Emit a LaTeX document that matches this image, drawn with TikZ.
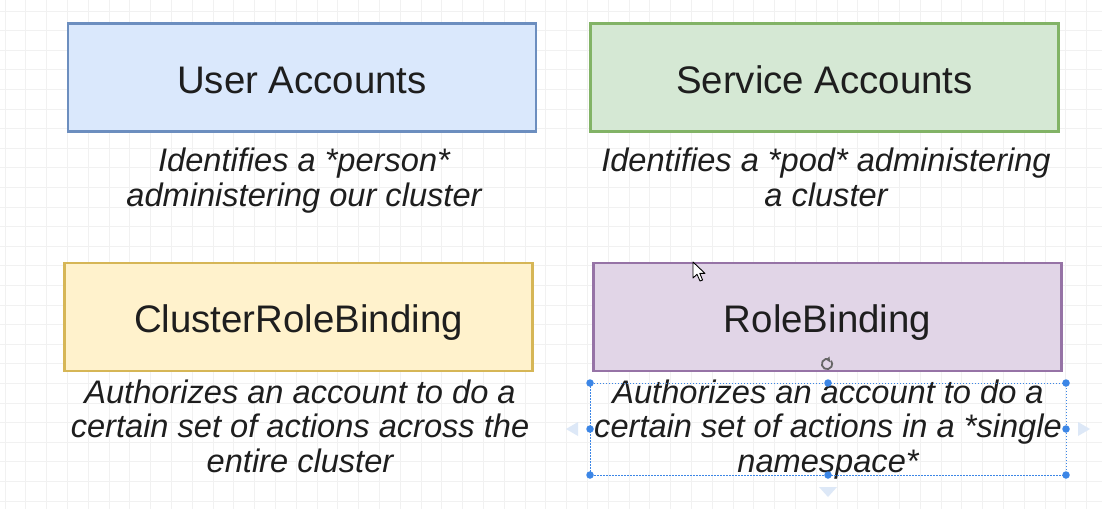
\documentclass[tikz,border=0pt]{standalone}
\usepackage{fontspec}
\setmainfont{Liberation Sans}
\definecolor{gridc}{HTML}{F1F1F1}
\definecolor{inkc}{HTML}{1E1E1E}
\definecolor{blueF}{HTML}{DAE8FC}\definecolor{blueS}{HTML}{6C8EBF}
\definecolor{greenF}{HTML}{D5E8D4}\definecolor{greenS}{HTML}{82B366}
\definecolor{yellowF}{HTML}{FFF2CC}\definecolor{yellowS}{HTML}{D6B656}
\definecolor{purpleF}{HTML}{E1D5E7}\definecolor{purpleS}{HTML}{9673A6}
\definecolor{selc}{HTML}{3C86E6}
\definecolor{hintc}{HTML}{DDE8F7}
\begin{document}
\begin{tikzpicture}[x=1pt,y=-1pt,
  card/.style={draw, line width=2.6pt, rectangle, minimum width=468pt,
    minimum height=108pt, inner sep=0pt, text=inkc,
    font=\fontsize{38.4}{46}\selectfont, text height=31pt, text depth=0pt},
  % the base anchor of a multi-line node sits on its last line
  desc/.style={align=center, inner sep=0pt, text=inkc, anchor=base,
    font=\fontsize{32.6}{34.2}\selectfont\itshape},
  handle/.style={circle, fill=selc, inner sep=0pt, minimum size=7.5pt},
  hint/.style={fill=hintc, draw=none}]
  % canvas and background grid
  \fill[white] (0,0) rectangle (1102,509);
  \useasboundingbox (0,0) rectangle (1102,509);
  \foreach \i in {0,...,53} \draw[gridc, line width=0.7pt] (5+20.8*\i,0) -- (5+20.8*\i,509);
  \foreach \j in {0,...,26} \draw[gridc, line width=0.7pt] (0,11+19.6*\j) -- (1102,11+19.6*\j);

  % the four cards
  \node[card, fill=blueF, draw=blueS]     (user)    at (302,77.5)  {User Accounts};
  \node[card, fill=greenF, draw=greenS]   (service) at (824.5,77.5) {Service Accounts};
  \node[card, fill=yellowF, draw=yellowS] (crb)     at (298.5,317) {ClusterRoleBinding};
  \node[card, fill=purpleF, draw=purpleS] (rb)      at (827.5,317) {RoleBinding};

  % descriptions under each card
  \node[desc] (userd)    at (304,206) {Identifies a *person*\\administering our cluster};
  \node[desc] (serviced) at (826,206) {Identifies a *pod* administering\\a cluster};
  \node[desc] (crbd)     at (300,472) {Authorizes an account to do a\\certain set of actions across the\\entire cluster};
  \node[desc] (rbd)      at (828,472) {Authorizes an account to do a\\certain set of actions in a *single\\namespace*};

  % selection frame around the RoleBinding description
  \coordinate (s1) at (590,383);
  \coordinate (s2) at (1066,475);
  \draw[selc, line width=0.8pt, dash pattern=on 1.5pt off 1.5pt] (s1) rectangle (s2);
  \foreach \p/\n in {{590,383}/h1,{828,383}/h2,{1066,383}/h3,{590,429}/h4,
                     {1066,429}/h5,{590,475}/h6,{828,475}/h7,{1066,475}/h8}
    \node[handle] (\n) at (\p) {};
  \fill[hint] (566,429) -- (578,422) -- (578,436) -- cycle;
  \fill[hint] (1090,429) -- (1078,422) -- (1078,436) -- cycle;
  \fill[hint] (828,497) -- (819,487) -- (837,487) -- cycle;

  % rotation handle
  \draw[gray!80!black, line width=1.8pt] (827,364) ++(60:5.2pt) arc[start angle=60, end angle=400, radius=5.2pt];
  \fill[gray!80!black] (829.5,356.5) -- (826,359.5) -- (830,362.2) -- cycle;

  % mouse pointer
  \draw[black, fill=white, line width=0.9pt, line join=round]
    (693,262) -- (693,278) -- (697,274.3) -- (700,281) -- (702.6,280) -- (699.8,273.4) -- (705,273.4) -- cycle;
\end{tikzpicture}
\end{document}
